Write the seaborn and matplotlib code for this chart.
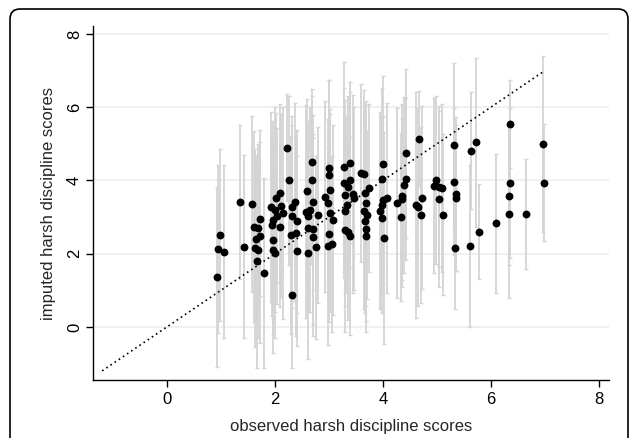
import matplotlib
matplotlib.use("Agg")
import matplotlib.pyplot as plt
import seaborn as sns
import pandas as pd
from matplotlib.patches import FancyBboxPatch

# observed harsh discipline scores (x)
observed = [
    0.92, 0.98, 0.95, 1.06, 1.36, 1.43,
    2.22, 2.26, 1.57, 2.09, 2.02, 1.92, 2.00, 2.11, 2.15, 2.03, 1.97, 1.94, 1.73, 1.61,
    1.69, 1.72, 1.65, 1.63, 1.69, 1.66, 1.80, 2.09, 1.96, 1.96, 2.00, 2.29, 2.32, 2.31,
    2.69, 3.01, 3.01, 2.68, 2.60, 3.03, 2.37, 2.71, 2.93, 2.99, 2.65, 2.31, 2.62, 2.80,
    2.57, 3.02, 2.41, 2.62, 2.71, 2.40, 3.01, 2.71, 2.41, 2.62, 2.77, 2.99, 3.05,
    3.39, 3.28, 3.60, 3.65, 3.28, 3.39, 3.36, 3.75, 3.44, 3.67, 3.30, 3.46, 3.69, 3.34,
    3.30, 3.65, 3.71, 3.67, 3.07, 3.30, 3.36, 3.69, 3.40, 3.69,
    4.43, 4.00, 3.98, 4.43, 4.39, 4.07, 4.00, 4.36, 4.35, 4.27, 3.99, 3.94, 3.98, 4.33, 4.02,
    4.67, 5.31, 4.98, 5.31, 4.94, 5.04, 5.10, 4.73, 5.36, 5.36, 5.04, 4.62, 4.65, 4.70, 5.12, 5.34,
    6.35, 5.72, 5.63, 6.97, 6.35, 6.98, 6.33, 6.34, 6.66, 6.09, 5.79, 5.61,
]

# imputed harsh discipline scores (y)
imputed = [
    1.36, 2.51, 2.13, 2.06, 3.41, 2.19,
    4.90, 4.00, 3.35, 3.65, 3.53, 3.27, 3.20, 3.31, 3.11, 3.03, 2.92, 2.79, 2.94, 2.74,
    2.70, 2.47, 2.40, 2.15, 2.10, 1.79, 1.48, 2.74, 2.38, 2.10, 2.01, 2.51, 3.02, 0.87,
    4.50, 4.35, 4.15, 4.02, 3.72, 3.74, 3.42, 3.40, 3.56, 3.38, 3.20, 3.27, 3.02, 3.06,
    3.15, 3.11, 2.89, 2.70, 2.67, 2.56, 2.54, 2.45, 2.08, 2.03, 2.17, 2.21, 2.27,
    4.49, 4.38, 4.20, 4.17, 3.94, 4.02, 3.82, 3.79, 3.63, 3.65, 3.61, 3.52, 3.38, 3.33,
    3.18, 3.18, 3.06, 2.89, 2.92, 2.65, 2.58, 2.67, 2.49, 2.47,
    4.74, 4.45, 4.04, 4.04, 3.88, 3.52, 3.47, 3.58, 3.49, 3.38, 3.33, 3.18, 2.97, 3.00, 2.42,
    5.14, 4.97, 4.02, 3.97, 3.86, 3.83, 3.79, 3.53, 3.63, 3.52, 3.50, 3.33, 3.27, 3.06, 3.06, 2.15,
    5.54, 5.04, 4.81, 5.00, 3.93, 3.94, 3.58, 3.09, 3.09, 2.83, 2.60, 2.21,
]

# half-width of each imputation interval
half_width = [
    2.45, 2.35, 2.30, 2.35, 2.10, 2.50,
    1.45, 2.30, 2.40, 2.45, 2.30, 2.60, 2.80, 2.50, 2.90, 2.40, 2.70, 2.50, 2.10, 2.60,
    2.30, 2.90, 2.20, 2.70, 2.40, 2.90, 2.60, 2.20, 2.60, 2.80, 2.30, 2.70, 2.50, 2.00,
    2.00, 2.40, 2.60, 2.30, 2.50, 2.20, 2.70, 2.40, 2.60, 2.30, 2.80, 2.50, 2.60, 2.40,
    2.90, 2.70, 2.50, 2.30, 2.60, 2.80, 2.40, 2.70, 2.60, 2.90, 2.50, 2.70, 2.40,
    2.20, 2.87, 2.44, 2.30, 2.60, 2.40, 2.50, 2.30, 2.70, 2.40, 2.60, 2.50, 2.80, 2.40,
    2.60, 2.70, 2.30, 2.50, 2.60, 2.80, 2.40, 2.50, 2.70, 2.60,
    2.30, 2.40, 2.50, 2.20, 2.40, 2.60, 2.30, 2.50, 2.20, 2.60, 2.40, 2.70, 2.60, 2.30, 2.90,
    1.30, 2.25, 2.30, 2.00, 2.40, 2.20, 2.30, 2.50, 2.10, 2.00, 2.40, 3.10, 2.70, 2.40, 2.20, 1.65,
    1.20, 2.30, 1.60, 2.40, 2.05, 1.60, 1.90, 2.30, 1.50, 1.90, 1.30, 2.20,
]

diag = [-1.2, 7.0]
x_ticks = [0, 2, 4, 6, 8]
y_ticks = [0, 2, 4, 6, 8]

df = pd.DataFrame({"observed": observed, "imputed": imputed, "hw": half_width})

sns.set_style("white")
plt.rcParams["font.family"] = ["Liberation Sans", "DejaVu Sans"]

fig = plt.figure(figsize=(6.3, 4.38), dpi=100)
ax = fig.add_axes([93 / 630, 1 - 380 / 438, (609 - 93) / 630, (380 - 26) / 438])

# error bars
ax.errorbar(df["observed"], df["imputed"], yerr=df["hw"], fmt="none",
            ecolor="#d4d4d4", elinewidth=1.3, capsize=1.6, capthick=1.0, zorder=2)

# diagonal reference line
sns.lineplot(x=diag, y=diag, ax=ax, color="black", linestyle=(0, (1, 2)),
             linewidth=1.2, zorder=3)

# points
sns.scatterplot(data=df, x="observed", y="imputed", ax=ax, color="black",
                s=32, linewidth=0, zorder=4)

ax.set_xlim(-1.37, 8.19)
ax.set_ylim(-1.45, 8.22)
ax.set_xticks(x_ticks)
ax.set_yticks(y_ticks)
ax.set_xticklabels([str(t) for t in x_ticks])
ax.set_yticklabels([str(t) for t in y_ticks], rotation=90, va="center")

ax.yaxis.grid(True, color="#efefef", linewidth=1.3)
ax.xaxis.grid(False)
ax.set_axisbelow(True)

for s in ["top", "right"]:
    ax.spines[s].set_visible(False)
for s in ["left", "bottom"]:
    ax.spines[s].set_color("black")
    ax.spines[s].set_linewidth(1.0)

ax.tick_params(axis="both", direction="out", length=5, width=1, color="black",
               labelsize=12, labelcolor="black", left=True, bottom=True)
ax.tick_params(axis="y", pad=3)
ax.tick_params(axis="x", pad=4)

ax.set_xlabel("observed harsh discipline scores", fontsize=12, labelpad=8)
ax.set_ylabel("imputed harsh discipline scores", fontsize=12, labelpad=8)

# outer rounded frame
frame = FancyBboxPatch((0.10, -0.5), 6.18, 4.79,
                       boxstyle="round,pad=0,rounding_size=0.1",
                       transform=fig.dpi_scale_trans, fill=False,
                       edgecolor="black", linewidth=1.2)
fig.add_artist(frame)

fig.savefig("out.png", dpi=100)
